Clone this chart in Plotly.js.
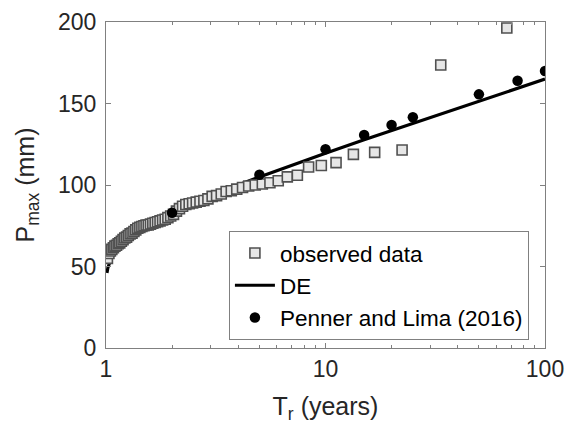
<!DOCTYPE html>
<html>
<head>
<meta charset="utf-8">
<script src="https://cdn.plot.ly/plotly-3.0.1.min.js"></script>
<style>
  html, body { margin: 0; padding: 0; background: #fff; }
  #chart { width: 566px; height: 426px; }
</style>
</head>
<body>
<div id="chart"></div>
<script>
// Return period (years) of the ranked annual maxima (Weibull positions)
var obsT = [
  1.015, 1.031, 1.047, 1.063, 1.081, 1.098, 1.117, 1.136, 1.155, 1.175,
  1.196, 1.218, 1.241, 1.264, 1.288, 1.314, 1.340, 1.367, 1.396, 1.426,
  1.457, 1.489, 1.523, 1.558, 1.595, 1.634, 1.675, 1.718, 1.763, 1.811,
  1.861, 1.914, 1.971, 2.030, 2.094, 2.161, 2.233, 2.310, 2.393, 2.481,
  2.577, 2.680, 2.792, 2.913, 3.045, 3.190, 3.350, 3.526, 3.722, 3.941,
  4.188, 4.467, 4.786, 5.154, 5.583, 6.091, 6.700, 7.444, 8.375, 9.571,
  11.17, 13.40, 16.75, 22.33, 33.50, 67.00
];
// Observed annual maximum precipitation (mm)
var obsP = [
  55, 58, 59.5, 60.5, 61.5, 62.5, 63, 64, 64.5, 65.5,
  66.5, 67.5, 68, 69, 70, 70.5, 71.5, 72.5, 73.5, 74,
  74.5, 75, 75.5, 75.5, 76, 76.5, 77, 77.5, 78, 78.5,
  79, 80, 81, 82, 84, 85.5, 87, 88, 88.5, 89,
  89.5, 90, 90.5, 91.5, 93, 93.5, 94.5, 96, 96.5, 97.5,
  98.5, 99.4, 100, 100.6, 101.4, 102.6, 105, 106, 111, 112,
  113.7, 118.8, 120, 121.5, 173.6, 196.3
];

// DE fitted quantile curve
var deT = [1.01, 1.02, 1.05, 1.1, 1.2, 1.3, 1.5, 1.75, 2, 2.5, 3, 4, 5, 7, 10, 15, 20, 30, 50, 75, 100];
var deP = [46.1, 49.2, 54.2, 58.8, 64.5, 68.4, 74.0, 79.0, 82.9, 88.8, 93.3, 100.0, 104.9, 112.1, 119.5, 127.7, 133.4, 141.5, 151.5, 159.4, 165.0];

// Penner and Lima (2016) quantiles
var plT = [2, 5, 10, 15, 20, 25, 50, 75, 100];
var plP = [83, 106.3, 122, 130.7, 136.8, 141.6, 155.6, 164, 169.9];

var labelNames = ['observed data', 'DE', 'Penner and Lima (2016)'];

var FONT = 'Liberation Sans, Arial, sans-serif';
var AX = '#808080';

var traces = [
  {
    x: deT, y: deP, type: 'scatter', mode: 'lines', name: labelNames[1],
    line: {color: '#000000', width: 3.2}, legendrank: 2
  },
  {
    x: obsT, y: obsP, type: 'scatter', mode: 'markers', name: labelNames[0],
    marker: {symbol: 'square', size: 10, color: '#e6e6e6', line: {color: '#505050', width: 1.6}},
    legendrank: 1
  },
  {
    x: plT, y: plP, type: 'scatter', mode: 'markers', name: labelNames[2],
    marker: {symbol: 'circle', size: 10.5, color: '#000000'}, legendrank: 3
  }
];

var layout = {
  width: 566, height: 426,
  margin: {l: 106, r: 21, t: 22, b: 78, pad: 0},
  paper_bgcolor: '#ffffff', plot_bgcolor: '#ffffff',
  font: {family: FONT, size: 22, color: '#262626'},
  showlegend: true,
  legend: {
    x: 0.28, y: 0.025, xanchor: 'left', yanchor: 'bottom',
    bgcolor: '#ffffff', bordercolor: AX, borderwidth: 1,
    font: {family: FONT, size: 22.5, color: '#000000'},
    itemwidth: 40, tracegroupgap: 0
  },
  xaxis: {
    type: 'log', range: [0, 2],
    tickvals: [1, 10, 100], ticktext: ['1', '10', '100'],
    ticks: 'inside', ticklen: 5, tickcolor: AX, tickwidth: 1,
    minor: {ticks: 'inside', ticklen: 3, tickcolor: AX, tickvals: [2,3,4,5,6,7,8,9,20,30,40,50,60,70,80,90], showgrid: false},
    showline: true, linecolor: AX, linewidth: 1, mirror: 'ticks',
    showgrid: false, zeroline: false,
    tickfont: {family: FONT, size: 23, color: '#262626'},
    title: {text: 'T<sub>r</sub> (years)', font: {family: FONT, size: 25, color: '#262626'}, standoff: 16}
  },
  yaxis: {
    range: [0, 200], tickvals: [0, 50, 100, 150, 200],
    ticks: 'inside', ticklen: 5, tickcolor: AX, tickwidth: 1,
    ticklabelstandoff: 4,
    showline: true, linecolor: AX, linewidth: 1, mirror: 'ticks',
    showgrid: false, zeroline: false,
    tickfont: {family: FONT, size: 23, color: '#262626'},
    title: {text: 'P<sub>max</sub> (mm)', font: {family: FONT, size: 25, color: '#262626'}, standoff: 16}
  }
};

Plotly.newPlot('chart', traces, layout, {displayModeBar: false, staticPlot: true});
</script>
</body>
</html>
